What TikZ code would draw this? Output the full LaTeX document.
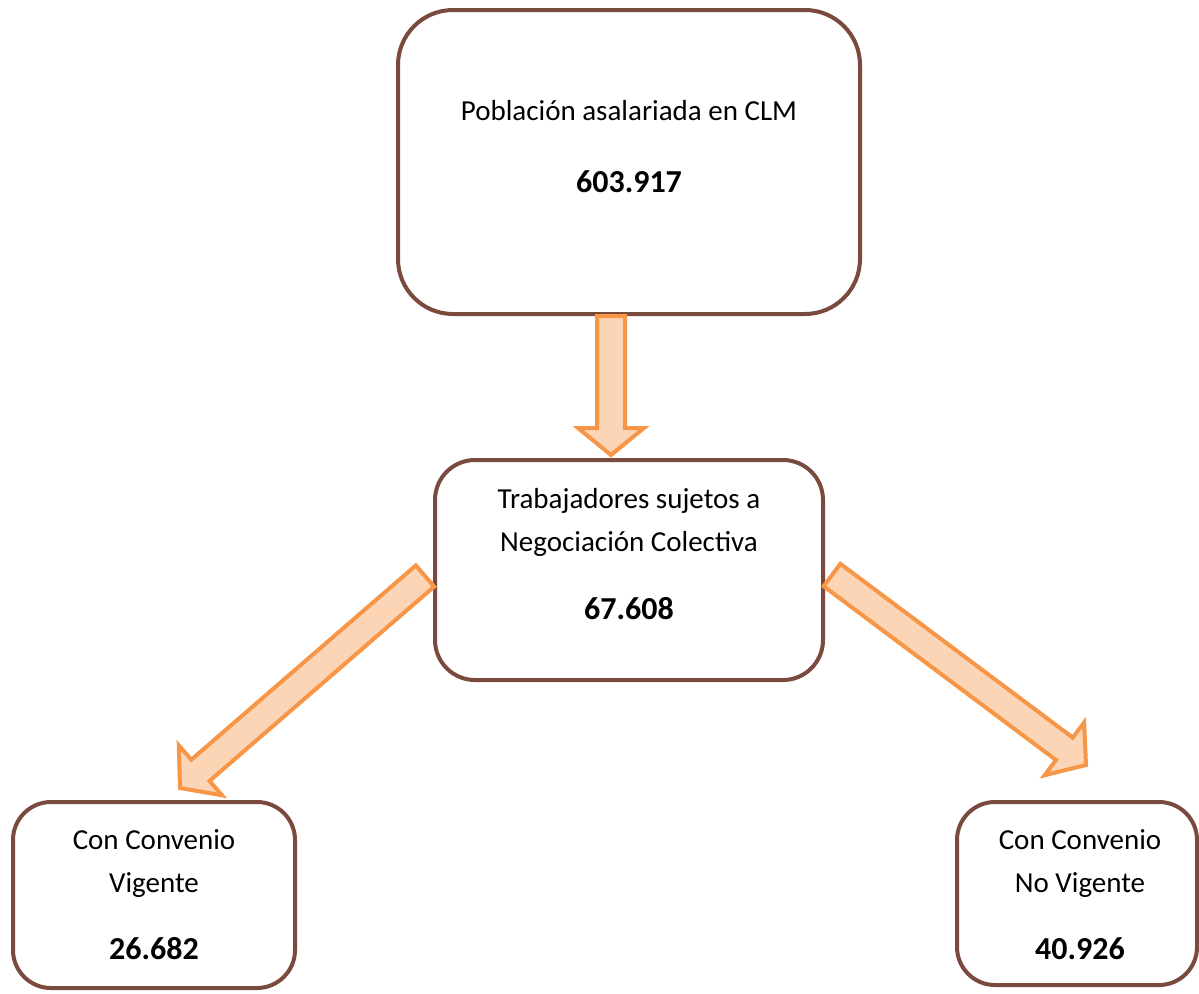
\documentclass[tikz,border=0pt]{standalone}
\usepackage{fontspec}
\setmainfont{Carlito}
\usetikzlibrary{calc}
\definecolor{boxbrown}{RGB}{122,74,62}
\definecolor{arrowline}{RGB}{247,150,70}
\definecolor{arrowfill}{RGB}{251,213,181}
\newcommand\blkarrow[2]{%
  \coordinate (hh) at ($(#2)!27pt!(#1)$);
  \draw[blockarrow] ($(#1)!14pt!90:(#2)$) -- ($(hh)!14pt!90:(#2)$) -- ($(hh)!33pt!90:(#2)$) -- (#2)
    -- ($(hh)!33pt!-90:(#2)$) -- ($(hh)!14pt!-90:(#2)$) -- ($(#1)!14pt!-90:(#2)$) -- cycle;}
\begin{document}
\begin{tikzpicture}[x=1pt,y=-1pt,
  box/.style={draw=boxbrown, line width=4pt, rounded corners=#1, fill=white, inner sep=0pt},
  box/.default=40pt,
  blockarrow/.style={draw=arrowline, fill=arrowfill, line width=4pt, line join=miter},
  txt/.style={font=\fontsize{29}{35}\selectfont, inner sep=0pt, anchor=base},
  num/.style={txt, font=\fontsize{32}{38}\selectfont\bfseries}]
\useasboundingbox (0,0) rectangle (1199,993);
% boxes (upper)
\node[box=55pt, minimum width=462pt, minimum height=304pt] (top) at (629,162) {};
\node[box=40pt, minimum width=388pt, minimum height=220pt] (mid) at (629,570) {};
% texts
\node[txt] (t1) at ($(top.north)+(0,112)$) {Población asalariada en CLM};
\node[num] (n1) at ($(top.north)+(0,184)$) {603.917};
\node[txt] (t2a) at ($(mid.north)+(0,50)$) {Trabajadores sujetos a};
\node[txt] (t2b) at ($(mid.north)+(0,93)$) {Negociación Colectiva};
\node[num] (n2) at ($(mid.north)+(0,161)$) {67.608};
% arrows
\coordinate (a1s) at ($(top.south)+(-18,0)$);
\coordinate (a1e) at ($(mid.north)+(-18,-3)$);
\blkarrow{a1s}{a1e}
\coordinate (bltip) at (180,788);
\coordinate (brtip) at (1086,765);
\coordinate (a2s) at ($(mid.west)+(-8,6)$);
\coordinate (a3s) at ($(mid.east)+(7,5)$);
\blkarrow{a2s}{bltip}
\blkarrow{a3s}{brtip}
% lower boxes
\node[box=38pt, minimum width=282pt, minimum height=186pt] (bl) at (154,895) {};
\node[box=38pt, minimum width=240pt, minimum height=183pt] (br) at (1077,893.5) {};
\node[txt] (t3a) at ($(bl.north)+(0,49)$) {Con Convenio};
\node[txt] (t3b) at ($(bl.north)+(0,92)$) {Vigente};
\node[num] (n3) at ($(bl.north)+(0,159)$) {26.682};
\node[txt] (t4a) at ($(br.north)+(3,49)$) {Con Convenio};
\node[txt] (t4b) at ($(br.north)+(3,92)$) {No Vigente};
\node[num] (n4) at ($(br.north)+(3,159)$) {40.926};
\end{tikzpicture}
\end{document}
